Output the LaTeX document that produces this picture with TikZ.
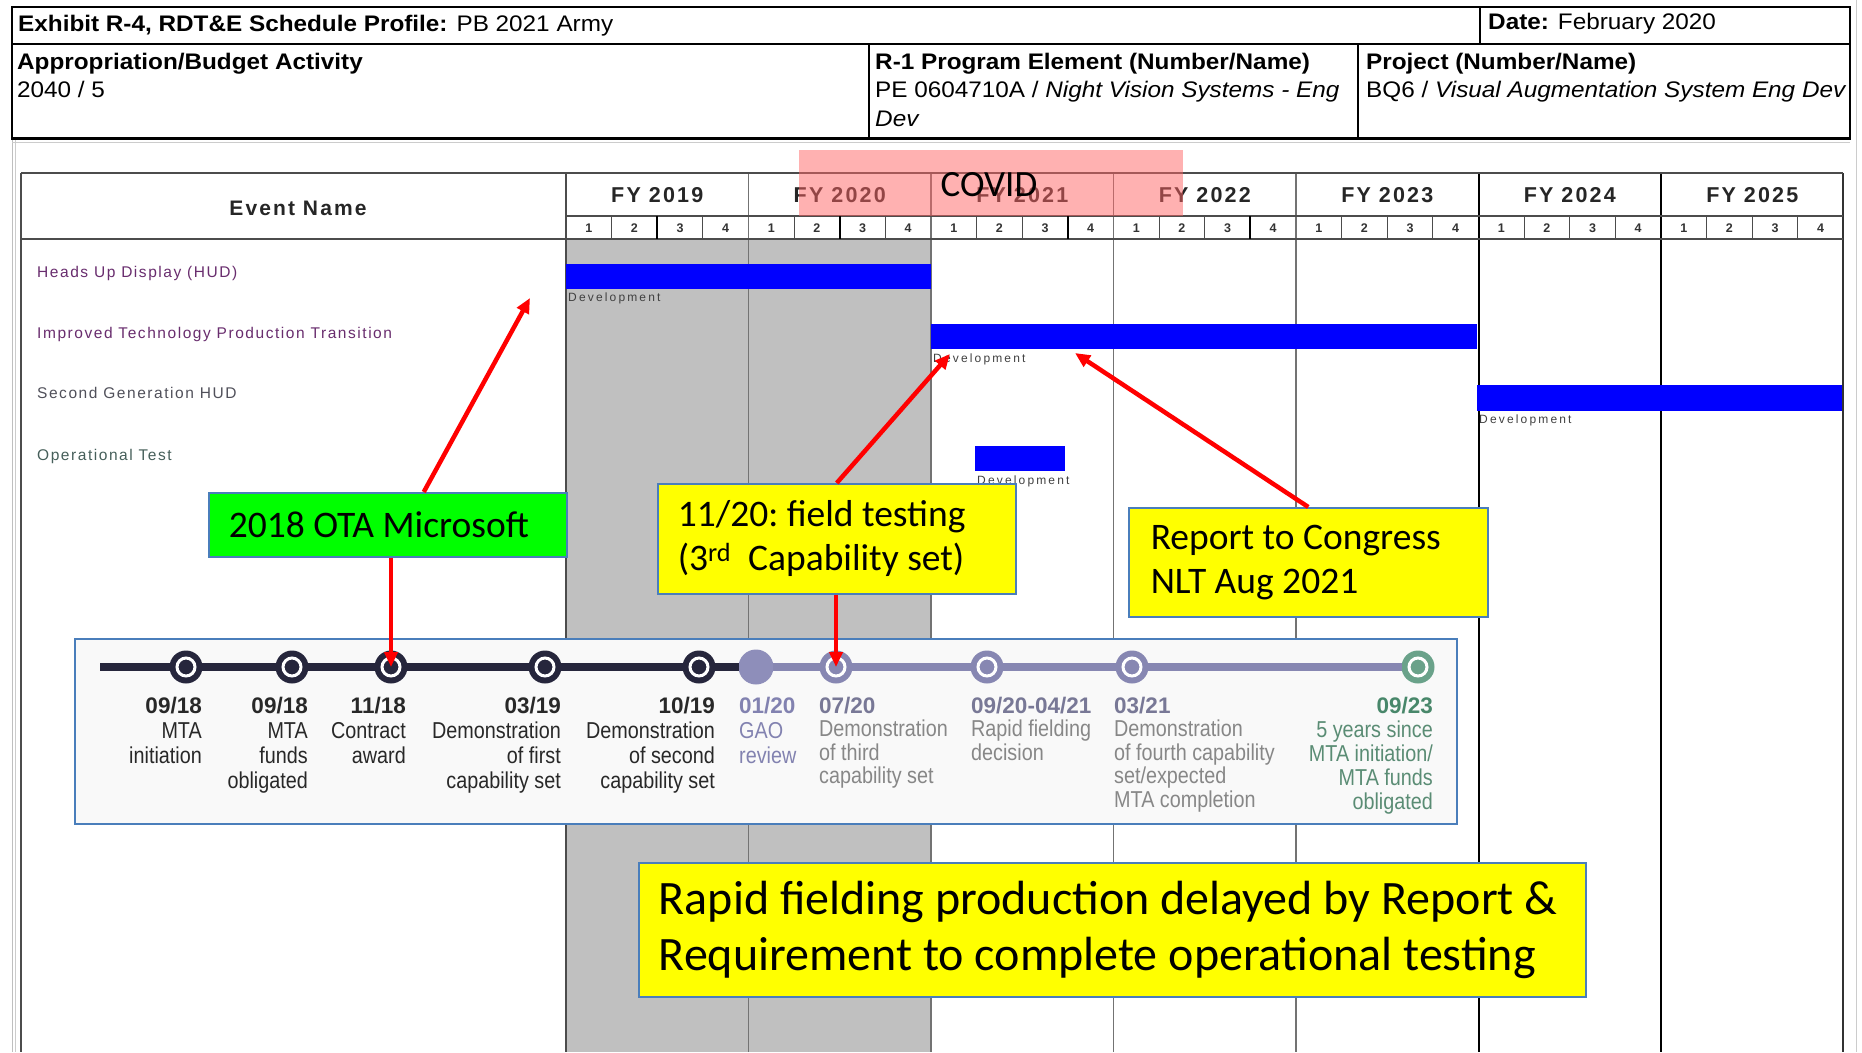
\documentclass[tikz,border=0pt]{standalone}
\usepackage{fontspec}
\setmainfont{Liberation Sans}
\newfontfamily\hdrfont[FakeStretch=1.08]{Liberation Sans}
\newfontfamily\narrowfont[FakeStretch=0.86]{Liberation Sans}
\newfontfamily\spacedfont[LetterSpace=10]{Liberation Sans}
\newfontfamily\tinyfont[LetterSpace=18]{Liberation Sans}
\newfontfamily\calfont{Carlito}
\usetikzlibrary{arrows.meta,calc}

\definecolor{barblue}{RGB}{0,0,255}
\definecolor{colgray}{RGB}{192,192,192}
\definecolor{tldark}{RGB}{38,38,60}
\definecolor{tllight}{RGB}{135,135,178}
\definecolor{tlgao}{RGB}{142,142,186}
\definecolor{tlgreen}{RGB}{106,162,138}
\definecolor{tlboxfill}{RGB}{249,249,249}
\definecolor{txtdark}{RGB}{40,40,40}
\definecolor{txtgao}{RGB}{130,130,176}
\definecolor{txtlightdate}{RGB}{120,120,150}
\definecolor{txtlight}{RGB}{135,135,135}
\definecolor{txtgreendate}{RGB}{72,135,106}
\definecolor{txtgreen}{RGB}{90,140,116}
\definecolor{edgeblue}{RGB}{74,126,187}
\definecolor{evpurple}{RGB}{105,45,110}
\definecolor{evgray}{RGB}{80,80,90}
\definecolor{evslate}{RGB}{70,95,90}
\definecolor{covidred}{RGB}{255,100,100}
\definecolor{greenbox}{RGB}{0,255,0}
\definecolor{yellowbox}{RGB}{255,255,0}

\newcommand\tldt[1]{{\normalfont\bfseries\fontsize{22.5}{25}\selectfont #1}}
% callout text keeps the font's own word spacing
\newcommand\natspace{\spaceskip=0pt\xspaceskip=0pt\frenchspacing}

\begin{document}
\begin{tikzpicture}[x=1pt,y=-1pt,
  hdr/.style={inner sep=0, anchor=base west, font=\hdrfont\fontsize{22.5}{28}\selectfont},
  fylabel/.style={inner sep=0, font=\spacedfont\bfseries\fontsize{21.5}{24}\selectfont, text=black!85},
  qnum/.style={inner sep=0, font=\spacedfont\bfseries\fontsize{12.5}{14}\selectfont, text=black!80},
  evname/.style={inner sep=0, anchor=base west, font=\spacedfont\fontsize{15.5}{18}\selectfont},
  devlabel/.style={inner sep=0, anchor=base west, font=\tinyfont\fontsize{12}{14}\selectfont, text=black!75},
  tltext/.style={inner sep=0, font=\narrowfont\fontsize{23}{25}\selectfont},
  tltextB/.style={inner sep=0, font=\narrowfont\fontsize{23}{23}\selectfont},
  tlmark/.style={circle, inner sep=0, minimum size=33},
  tlline/.style={line width=8, shorten <=-1, shorten >=-1},
  callout/.style={draw=edgeblue, line width=1.5, anchor=north west, align=left,
    inner xsep=20, inner ysep=0, font=\calfont\fontsize{37.5}{44}\selectfont},
  redarrow/.style={draw=red, line width=4.5, -{Triangle[length=15, width=13]}},
  yearline/.style={draw=black!55, line width=1.5},
  yearlinedark/.style={draw=black, line width=2},
]
\useasboundingbox (0,0) rectangle (1862,1052);
\fill[white] (0,0) rectangle (1862,1052);

% page edges
\draw[black!25, line width=1] (12,139) -- (12,1052);
\draw[black!20, line width=1] (15,139) -- (15,1052);
\draw[black!20, line width=1] (1856,0) -- (1856,1052);
\draw[black!20, line width=1] (12,142) -- (1850,142);

% ---------- header block ----------
\draw[line width=1.2] (12,7) rectangle (1850,139);
\draw[line width=2] (12,44) -- (1850,44);
\draw[line width=2.5] (12,138) -- (1850,138);
\draw[line width=1.2] (1480,7) -- (1480,44);
\draw[line width=1.2] (869,44) -- (869,138);
\draw[line width=1.2] (1358,44) -- (1358,138);

\node[hdr] (exhibit) at (18,31) {\textbf{Exhibit R-4, RDT\&E Schedule Profile:} PB 2021 Army};
\node[hdr] (date) at (1488,29) {\textbf{Date:} February 2020};
\node[hdr] (approp1) at (17,69) {\textbf{Appropriation/Budget Activity}};
\node[hdr] (approp2) at (17,97) {2040 / 5};
\node[hdr] (pe1) at (875,69) {\textbf{R-1 Program Element (Number/Name)}};
\node[hdr] (pe2) at (875,97) {PE 0604710A / \textit{Night Vision Systems - Eng}};
\node[hdr] (pe3) at (875,126) {\textit{Dev}};
\node[hdr] (proj1) at (1366,69) {\textbf{Project (Number/Name)}};
\node[hdr] (proj2) at (1366,97) {BQ6 / \textit{Visual Augmentation System Eng Dev}};

% ---------- schedule table ----------
\fill[colgray] (566,239) rectangle (931,1052);
\foreach \i in {1,...,4}
  \draw[yearline] ({566+182.5*\i},173) -- ({566+182.5*\i},1052);
\foreach \i in {5,6}
  \draw[yearlinedark] ({566+182.5*\i},173) -- ({566+182.5*\i},1052);
\draw[black!80, line width=2] (1843,173) -- (1843,1052);
\draw[black!70, line width=1.5] (21,173) -- (21,1052);
\draw[black!70, line width=1.5] (566,173) -- (566,1052);
\draw[black!70, line width=2.5] (21,173) -- (1843,173);
\draw[black!70, line width=2.5] (21,239) -- (1843,239);
\draw[black!70, line width=1.2] (566,216) -- (1843,216);

% quarter separators (thicker ones mark mid-year splits)
\foreach \y in {0,...,6}
  \foreach \q in {1,2,3}
    \draw[black!70, line width=1] ({566+182.5*\y+45.625*\q},216) -- ({566+182.5*\y+45.625*\q},239);
\foreach \y/\q in {0/2,1/2,2/3,3/3}
  \draw[black, line width=2.2] ({566+182.5*\y+45.625*\q},216) -- ({566+182.5*\y+45.625*\q},239);

\node[inner sep=0, font=\spacedfont\bfseries\fontsize{21}{24}\selectfont, text=black!85] (evhead) at (298,208) {Event Name};
\foreach \y/\lbl in {0/2019,1/2020,2/2021,3/2022,4/2023,5/2024,6/2025} {
  \node[fylabel] (fy\lbl) at ({566+182.5*(\y+0.5)},195) {FY \lbl};
  \foreach \q in {1,...,4}
    \node[qnum] (q\lbl-\q) at ({566+182.5*\y+45.625*(\q-0.5)},228) {\q};
}

% event rows
\node[evname, text=evpurple] (ev1) at (37,277) {Heads Up Display (HUD)};
\node[evname, text=evpurple] (ev2) at (37,338) {Improved Technology Production Transition};
\node[evname, text=evgray] (ev3) at (37,398) {Second Generation HUD};
\node[evname, text=evslate] (ev4) at (37,460) {Operational Test};

% development bars
\fill[barblue] (566,264) rectangle (931,289);
\fill[barblue] (931,324) rectangle (1477,349);
\fill[barblue] (1477,385) rectangle (1842,411);
\fill[barblue] (975,446) rectangle (1065,471);
\node[devlabel] (dev1) at (568,301) {Development};
\node[devlabel] (dev2) at (933,362) {Development};
\node[devlabel] (dev3) at (1479,423) {Development};
\node[devlabel] (dev4) at (977,484) {Development};

% COVID period overlay
\fill[covidred, fill opacity=0.5] (799,150) rectangle (1183,216);
\node[inner sep=0, anchor=base, font=\calfont\fontsize{37}{40}\selectfont] (covid) at (989,196) {COVID};

% ---------- MTA timeline panel ----------
\filldraw[fill=tlboxfill, draw=edgeblue, line width=2] (75,639) rectangle (1457,824);
\coordinate (tlstart) at (101,667);
\foreach \n/\x/\c in {m1/186/tldark, m2/292/tldark, m3/391/tldark, m4/545/tldark,
    m5/699/tldark, m7/836/tllight, m8/987/tllight, m9/1132/tllight, m10/1418/tlgreen} {
  \node[tlmark, fill=\c] (\n) at (\x,667) {};
  \draw[white, line width=3] (\n.center) circle[radius=9];
}
\node[tlmark, fill=tlgao, minimum size=35] (m6) at (756,667) {};
\foreach \a/\b in {tlstart/m1, m1/m2, m2/m3, m3/m4, m4/m5, m5/m6}
  \draw[tlline, tldark] (\a) -- (\b);
\foreach \a/\b in {m6/m7, m7/m8, m8/m9, m9/m10}
  \draw[tlline, tllight] (\a) -- (\b);

\node[tltext, anchor=base east, text=txtdark] (l1) at (202,713)
  {\begin{tabular}[t]{@{}r@{}}\tldt{09/18}\\MTA\\initiation\end{tabular}};
\node[tltext, anchor=base east, text=txtdark] (l2) at (308,713)
  {\begin{tabular}[t]{@{}r@{}}\tldt{09/18}\\MTA\\funds\\obligated\end{tabular}};
\node[tltext, anchor=base east, text=txtdark] (l3) at (406,713)
  {\begin{tabular}[t]{@{}r@{}}\tldt{11/18}\\Contract\\award\end{tabular}};
\node[tltext, anchor=base east, text=txtdark] (l4) at (561,713)
  {\begin{tabular}[t]{@{}r@{}}\tldt{03/19}\\Demonstration\\of first\\capability set\end{tabular}};
\node[tltext, anchor=base east, text=txtdark] (l5) at (715,713)
  {\begin{tabular}[t]{@{}r@{}}\tldt{10/19}\\Demonstration\\of second\\capability set\end{tabular}};
\node[tltext, anchor=base west, text=txtgao] (l6) at (739,713)
  {\begin{tabular}[t]{@{}l@{}}\tldt{01/20}\\GAO\\review\end{tabular}};
\node[tltextB, anchor=base west, text=txtlight] (l7) at (819,713)
  {\begin{tabular}[t]{@{}l@{}}\textcolor{txtlightdate}{\tldt{07/20}}\\Demonstration\\of third\\capability set\end{tabular}};
\node[tltextB, anchor=base west, text=txtlight] (l8) at (971,713)
  {\begin{tabular}[t]{@{}l@{}}\textcolor{txtlightdate}{\tldt{09/20-04/21}}\\Rapid fielding\\decision\end{tabular}};
\node[tltextB, anchor=base west, text=txtlight] (l9) at (1114,713)
  {\begin{tabular}[t]{@{}l@{}}\textcolor{txtlightdate}{\tldt{03/21}}\\Demonstration\\of fourth capability\\set/expected\\MTA completion\end{tabular}};
\node[tltext, font=\narrowfont\fontsize{23}{24}\selectfont, anchor=base east, text=txtgreen] (l10) at (1433,713)
  {\begin{tabular}[t]{@{}r@{}}\textcolor{txtgreendate}{\tldt{09/23}}\\5 years since\\MTA initiation/\\MTA funds\\obligated\end{tabular}};

% ---------- callouts ----------
\node[callout, fill=greenbox, minimum width=358, minimum height=64, text width=318] (ota) at (208,492)
  {\natspace 2018 OTA Microsoft};
\node[callout, fill=yellowbox, minimum width=358, minimum height=110, text width=318] (field) at (657,483)
  {\natspace 11/20: field testing\\(3\textsuperscript{rd}\ \ Capability set)};
\node[callout, fill=yellowbox, minimum width=359, minimum height=109, text width=315, inner xsep=22] (report) at (1128,507)
  {\natspace Report to Congress\\NLT Aug 2021};
\node[callout, fill=yellowbox, minimum width=947, minimum height=134, text width=907,
  font=\calfont\fontsize{48}{56}\selectfont] (delay) at (638,862)
  {\natspace\mbox{Rapid fielding production delayed by Report \&}\\\mbox{Requirement to complete operational testing}};

% ---------- red pointers ----------
\coordinate (hudtip) at (530,298);
\coordinate (devtip) at (950,354);
\coordinate (reptip) at (1075,353);
\draw[redarrow] ([xshift=36]ota.north) -- (hudtip);
\draw[redarrow] (ota.south -| m3) -- (m3.center);
\draw[redarrow] (field.north) -- (devtip);
\draw[redarrow] (field.south -| m7) -- (m7.center);
\draw[redarrow] (report.north) -- (reptip);
\end{tikzpicture}
\end{document}
